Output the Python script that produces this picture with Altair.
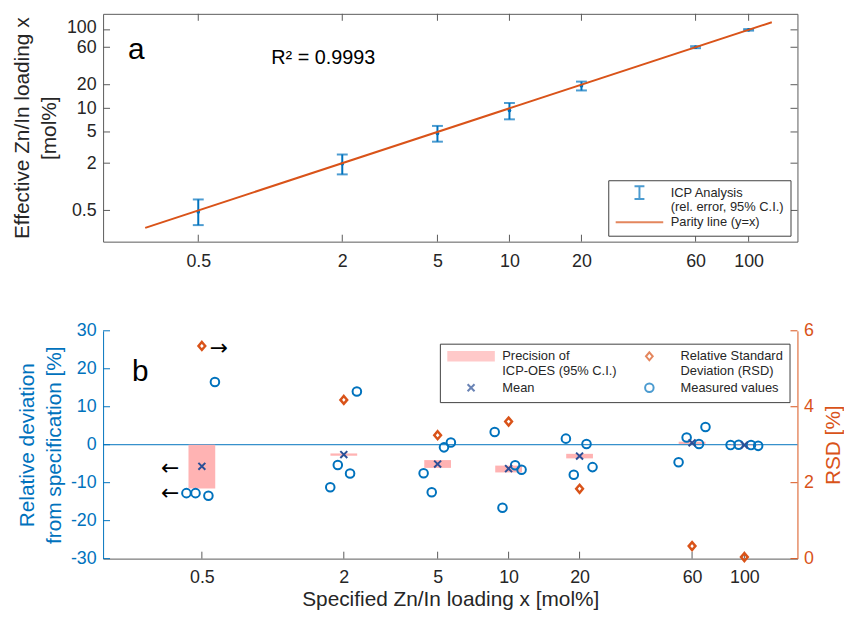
import altair as alt
import pandas as pd

# ---------------- data ----------------
spec_x = [0.5, 2, 5, 10, 20, 60, 100]
tick_vals = [0.5, 2, 5, 10, 20, 60, 100]

# panel a : ICP analysis, effective loading (mol%) with 95% C.I.
icp_mean = [0.48, 1.97, 4.78, 9.40, 19.45, 60.2, 100.0]
icp_lo = [0.325, 1.44, 3.76, 7.24, 16.9, 58.4, 97.8]
icp_hi = [0.69, 2.58, 5.97, 11.7, 21.9, 61.9, 102.2]
parity_x = [0.3, 125]

# panel b : relative deviation from specification (%)
dev_mean = [-5.7, -2.6, -5.1, -6.3, -3.0, 0.5, -0.1]
prec_lo = [-11.5, -2.9, -6.1, -7.3, -3.6, 0.2, -0.2]
prec_hi = [0.0, -2.3, -4.05, -5.5, -2.4, 0.8, 0.0]
rsd = [5.6, 4.18, 3.25, 3.61, 1.84, 0.33, 0.04]

meas_x = [0.430, 0.470, 0.533, 0.568,
          1.752, 1.886, 2.126, 2.272,
          4.36, 4.72, 5.32, 5.69,
          8.73, 9.42, 10.66, 11.35,
          17.5, 18.9, 21.4, 22.7,
          52.6, 56.9, 64.2, 68.4,
          87.4, 94.6, 106.7, 114.4]
meas_y = [-12.75, -12.75, -13.45, 16.5,
          -11.2, -5.35, -7.6, 14.0,
          -7.5, -12.5, -0.7, 0.6,
          3.36, -16.6, -5.4, -6.6,
          1.6, -7.9, 0.17, -5.9,
          -4.6, 1.9, 0.2, 4.65,
          -0.1, 0.0, -0.1, -0.3]

left_ticks = [-30, -20, -10, 0, 10, 20, 30]
right_ticks = [0, 2, 4, 6]

top_legend_names = ["ICP Analysis|(rel. error, 95% C.I.)", "Parity line (y=x)"]
bot_legend_names = ["Precision of|ICP-OES (95% C.I.)", "Mean",
                    "Relative Standard|Deviation (RSD)", "Measured values"]

# annotations
label_a = {"x": [0.254], "y": [42.8], "t": ["a"]}
label_r2 = {"x": [1.01], "y": [37.1], "t": ["R\u00b2 = 0.9993"]}
label_b = {"x": [0.253], "y": [16.75], "t": ["b"]}
arrows_left = {"x": [0.367, 0.367], "y": [-6.1, -12.7], "t": ["\u2190", "\u2190"]}
arrows_right = {"x": [0.59], "y": [5.55], "t": ["\u2192"]}

# ---------------- styling ----------------
FONT = "Liberation Sans"
BLUE = "#0072BD"
ORANGE = "#D95319"
PINK = "#FFB3B3"
MEANC = "#2B4F96"
AXC = "#262626"
BOXC = "#5a5a5a"
W, H = 701, 230
TL = 7  # inward tick length

xs = alt.Scale(type="log", domain=[0.2, 160], nice=False)
ytop = alt.Scale(type="log", domain=[0.2, 160], nice=False)
yl = alt.Scale(domain=[-30, 30], nice=False, zero=False)
yr = alt.Scale(domain=[0, 6], nice=False, zero=False)

# legend symbol paths (symbolSize 100 -> 5 px per path unit)
ERR_PATH = "M-1,-1.3H1M0,-1.3V1.3M-1,1.3H1"
LINE_PATH = "M-4.8,0H4.8"
BAR_PATH = ("M-4.8,-0.86H4.8M-4.8,-0.516H4.8M-4.8,-0.172H4.8"
            "M-4.8,0.172H4.8M-4.8,0.516H4.8M-4.8,0.86H4.8")
DIAM_PATH = "M0,-0.8L0.68,0L0,0.8L-0.68,0Z"
X_PATH = "M-0.7,-0.7L0.7,0.7M-0.7,0.7L0.7,-0.7"
CIRC_PATH = "M0.86,0A0.86,0.86,0,1,1,-0.86,0A0.86,0.86,0,1,1,0.86,0Z"
LEG_SIZE = 100


def make_legend(lx, ly, cols):
    return alt.Legend(title=None, orient="none", legendX=lx, legendY=ly, columns=cols,
                      direction="vertical", strokeColor="#404040", fillColor="white",
                      padding=6, labelFont=FONT, labelFontSize=13, labelColor=AXC,
                      labelLimit=400, labelOffset=25, symbolOffset=19,
                      labelExpr="split(datum.label, '|')",
                      symbolSize=LEG_SIZE, symbolStrokeWidth=2, rowPadding=1, columnPadding=7)


tick_df = pd.DataFrame({"v": tick_vals})

# ---------------- panel a ----------------
top_df = pd.DataFrame({"x": spec_x, "m": icp_mean, "lo": icp_lo, "hi": icp_hi})
par_df = pd.DataFrame({"x": parity_x, "y": parity_x})

xa_top = alt.Axis(values=tick_vals, format="~g", title=None, labelPadding=11, domain=False,
                  labelOverlap=False)
ya_top = alt.Axis(values=tick_vals, format="~g",
                  title=["Effective Zn/In loading x", "[mol%]"],
                  titleLineHeight=27, titlePadding=7, labelPadding=7, domain=False,
                  labelOverlap=False,
                  labelOffset=alt.condition("datum.value == 100", alt.value(-2),
                                            alt.value(0)))


def xt(field):
    return alt.X(field, scale=xs, axis=xa_top)


def yt(field):
    return alt.Y(field, scale=ytop, axis=ya_top)


eb = alt.Chart(top_df).mark_rule(color=BLUE, strokeWidth=2).encode(
    x=xt("x:Q"), y=yt("lo:Q"), y2="hi:Q")
cap_lo = alt.Chart(top_df).mark_tick(color=BLUE, orient="horizontal", size=11, thickness=2).encode(
    x=xt("x:Q"), y=yt("lo:Q"))
cap_hi = alt.Chart(top_df).mark_tick(color=BLUE, orient="horizontal", size=11, thickness=2).encode(
    x=xt("x:Q"), y=yt("hi:Q"))
dots = alt.Chart(top_df).mark_point(filled=True, size=14, color=BLUE, opacity=1).encode(
    x=xt("x:Q"), y=yt("m:Q"))
parity = alt.Chart(par_df).mark_line(color=ORANGE, strokeWidth=2).encode(
    x=xt("x:Q"), y=yt("y:Q"))

txt_a = alt.Chart(pd.DataFrame(label_a)).mark_text(font=FONT, fontSize=30, align="left",
                                                   baseline="alphabetic", color="black").encode(
    x=xt("x:Q"), y=yt("y:Q"), text="t:N")
txt_r2 = alt.Chart(pd.DataFrame(label_r2)).mark_text(font=FONT, fontSize=20, align="left",
                                                     baseline="alphabetic", color="black").encode(
    x=xt("x:Q"), y=yt("y:Q"), text="t:N")

tk_b = alt.Chart(tick_df).mark_rule(color=BOXC, strokeWidth=1).encode(
    x=xt("v:Q"), y=alt.value(H), y2=alt.value(H - TL))
tk_t = alt.Chart(tick_df).mark_rule(color=BOXC, strokeWidth=1).encode(
    x=xt("v:Q"), y=alt.value(0), y2=alt.value(TL))
tk_l = alt.Chart(tick_df).mark_rule(color=BOXC, strokeWidth=1).encode(
    y=yt("v:Q"), x=alt.value(0), x2=alt.value(TL))
tk_r = alt.Chart(tick_df).mark_rule(color=BOXC, strokeWidth=1).encode(
    y=yt("v:Q"), x=alt.value(W), x2=alt.value(W - TL))

leg_top_l = make_legend(510, 168, 1)
leg_top = alt.Chart(pd.DataFrame({"s": top_legend_names})).transform_filter("false").mark_point(
    filled=False, size=LEG_SIZE, strokeWidth=2).encode(
    x=alt.value(0), y=alt.value(0),
    stroke=alt.Stroke("s:N", scale=alt.Scale(domain=top_legend_names, range=[BLUE, ORANGE]),
                      legend=leg_top_l),
    shape=alt.Shape("s:N", scale=alt.Scale(domain=top_legend_names, range=[ERR_PATH, LINE_PATH]),
                    legend=leg_top_l))

top = alt.layer(eb, cap_lo, cap_hi, dots, parity, tk_b, tk_t, tk_l, tk_r, txt_a, txt_r2, leg_top).properties(
    width=W, height=H, view=alt.ViewBackground(stroke=BOXC, strokeWidth=1))

# ---------------- panel b ----------------
grp_df = pd.DataFrame({"x": spec_x, "m": dev_mean, "plo": prec_lo, "phi": prec_hi, "rsd": rsd})
meas_df = pd.DataFrame({"x": meas_x, "y": meas_y})

xa_bot = alt.Axis(values=tick_vals, format="~g", title="Specified Zn/In loading x [mol%]",
                  labelPadding=10, titlePadding=2, domainColor=BOXC, labelOverlap=False)
ya_left = alt.Axis(values=left_ticks, title=["Relative deviation", "from specification [%]"],
                   titleLineHeight=27, titlePadding=6, labelPadding=7,
                   labelExpr="datum.value < 0 ? '-' + abs(datum.value) : '' + datum.value",
                   labelColor=BLUE, titleColor=BLUE, domainColor=BLUE, labelOverlap=False)
ya_right = alt.Axis(orient="right", values=right_ticks, title="RSD [%]", titleAngle=270,
                    titleBaseline="top", titlePadding=9, labelPadding=6,
                    labelColor=ORANGE, titleColor=ORANGE, domainColor=ORANGE, labelOverlap=False)


def xb(field):
    return alt.X(field, scale=xs, axis=xa_bot)


def yb(field):
    return alt.Y(field, scale=yl, axis=ya_left)


def yrr(field):
    return alt.Y(field, scale=yr, axis=ya_right)


zero = alt.Chart(pd.DataFrame({"z": [0]})).mark_rule(color=BLUE, strokeWidth=1).encode(
    y=yb("z:Q"))
prec = alt.Chart(grp_df).mark_bar(width=27, color=PINK).encode(
    x=xb("x:Q"), y=yb("plo:Q"), y2="phi:Q")
mean = alt.Chart(grp_df).mark_point(shape="M-1,-1L1,1M-1,1L1,-1", size=49, filled=False,
                                     strokeWidth=2, color=MEANC, opacity=1).encode(
    x=xb("x:Q"), y=yb("m:Q"))
circles = alt.Chart(meas_df).mark_point(shape="circle", size=75, filled=False, strokeWidth=2,
                                        color=BLUE, opacity=1).encode(
    x=xb("x:Q"), y=yb("y:Q"))
txt_b = alt.Chart(pd.DataFrame(label_b)).mark_text(font=FONT, fontSize=30, align="left",
                                                   baseline="alphabetic", color="black").encode(
    x=xb("x:Q"), y=yb("y:Q"), text="t:N")
arr_l = alt.Chart(pd.DataFrame(arrows_left)).mark_text(font="DejaVu Sans", fontSize=22,
                                                       baseline="middle", color="black").encode(
    x=xb("x:Q"), y=yb("y:Q"), text="t:N")
btk_x = alt.Chart(tick_df).mark_rule(color=BOXC, strokeWidth=1).encode(
    x=xb("v:Q"), y=alt.value(H), y2=alt.value(H - TL))
btk_l = alt.Chart(pd.DataFrame({"v": left_ticks})).mark_rule(color=BLUE, strokeWidth=1).encode(
    y=yb("v:Q"), x=alt.value(0), x2=alt.value(TL))

leg_bot_l = make_legend(340, 13, 2)
leg_bot = alt.Chart(pd.DataFrame({"s": bot_legend_names})).transform_filter("false").mark_point(
    filled=False, size=LEG_SIZE, strokeWidth=2).encode(
    x=alt.value(0), y=alt.value(0),
    stroke=alt.Stroke("s:N", scale=alt.Scale(domain=bot_legend_names,
                                             range=[PINK, MEANC, ORANGE, BLUE]),
                      legend=leg_bot_l),
    shape=alt.Shape("s:N", scale=alt.Scale(domain=bot_legend_names,
                                           range=[BAR_PATH, X_PATH, DIAM_PATH, CIRC_PATH]),
                    legend=leg_bot_l))

left_grp = alt.layer(zero, prec, circles, mean, btk_x, btk_l, txt_b, arr_l, leg_bot)

diam = alt.Chart(grp_df).mark_point(shape="M0,-1L0.85,0L0,1L-0.85,0Z", size=64, filled=False,
                                     strokeWidth=2.5, color=ORANGE, opacity=1).encode(
    x=xb("x:Q"), y=yrr("rsd:Q"))
arr_r = alt.Chart(pd.DataFrame(arrows_right)).mark_text(font="DejaVu Sans", fontSize=22,
                                                        baseline="middle", color="black").encode(
    x=xb("x:Q"), y=yrr("y:Q"), text="t:N")
btk_r = alt.Chart(pd.DataFrame({"v": right_ticks})).mark_rule(color=ORANGE, strokeWidth=1).encode(
    y=yrr("v:Q"), x=alt.value(W), x2=alt.value(W - TL))

right_grp = alt.layer(diam, btk_r, arr_r)

bottom = alt.layer(left_grp, right_grp).resolve_scale(y="independent").properties(width=W, height=H)

chart = alt.vconcat(top, bottom, spacing=90, bounds="flush").resolve_scale(
    stroke="independent", shape="independent"
).properties(
    padding={"left": 3, "top": 2, "right": 0, "bottom": 0}
).configure(font=FONT, background="white").configure_view(stroke="transparent").configure_axis(
    labelFont=FONT, titleFont=FONT, labelFontSize=18, titleFontSize=21, titleFontWeight="normal",
    labelColor=AXC, titleColor=AXC, grid=False, ticks=False, domainColor=BOXC
)

chart.save("out.html", embed_options={"renderer": "svg", "actions": False})
